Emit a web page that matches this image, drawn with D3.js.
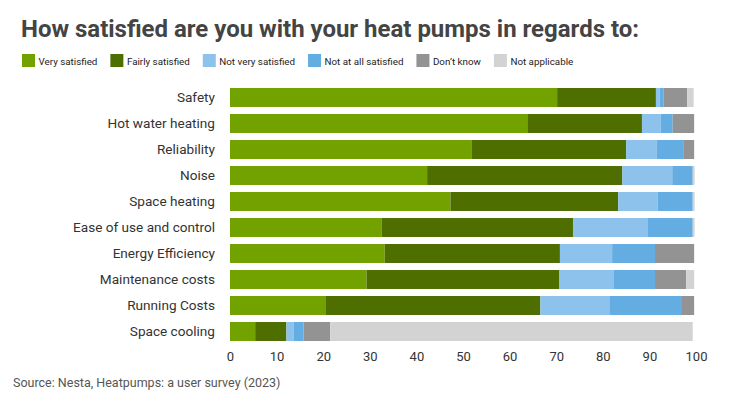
<!DOCTYPE html>
<html>
<head>
<meta charset="utf-8">
<script src="https://cdn.jsdelivr.net/npm/d3@7"></script>
<style>
  body { margin: 0; background: #fff; }
  svg { display: block; font-family: Roboto, "Noto Sans", sans-serif; }
</style>
</head>
<body>
<div id="chart"></div>
<script>
// categories, top to bottom
var categories = ["Safety", "Hot water heating", "Reliability", "Noise", "Space heating",
  "Ease of use and control", "Energy Efficiency", "Maintenance costs", "Running Costs", "Space cooling"];

var seriesNames = ["Very satisfied", "Fairly satisfied", "Not very satisfied",
  "Not at all satisfied", "Don\u2019t know", "Not applicable"];

// percentages per series, same order as categories
var verySatisfied   = [70.2, 63.8, 51.8, 42.3, 47.3, 32.5, 33.2, 29.3, 20.6, 5.4];
var fairlySatisfied = [21.2, 24.6, 33.2, 41.9, 36.0, 41.1, 37.6, 41.4, 46.0, 6.7];
var notVery         = [0.8, 4.0, 6.6, 10.7, 8.5, 16.1, 11.2, 11.7, 14.8, 1.6];
var notAtAll        = [0.8, 2.6, 5.8, 4.4, 7.5, 9.6, 9.2, 8.8, 15.4, 2.1];
var dontKnow        = [5.1, 4.6, 2.2, 0, 0, 0, 8.4, 6.7, 2.8, 5.7];
var notApplicable   = [1.4, 0, 0, 0.4, 0.4, 0.4, 0, 1.7, 0, 77.8];

var xTicks = [0, 10, 20, 30, 40, 50, 60, 70, 80, 90, 100];

var colors = ["#72a200", "#4e6e00", "#8cc2eb", "#64ade3", "#939393", "#d3d3d3"];

var allSeries = [verySatisfied, fairlySatisfied, notVery, notAtAll, dontKnow, notApplicable];

// build rows for the stack
var rows = categories.map(function(c, i) {
  var r = { cat: c };
  seriesNames.forEach(function(s, j) { r[s] = allSeries[j][i]; });
  return r;
});

var width = 730, height = 402;

var svg = d3.select("#chart").append("svg")
  .attr("width", width)
  .attr("height", height);

var x = d3.scaleLinear().domain([0, 100]).range([230, 696]);
var y = d3.scaleBand().domain(categories).range([84.5, 344.5])
  .paddingInner(0.27).paddingOuter(0.135);
var color = d3.scaleOrdinal().domain(seriesNames).range(colors);

// title
svg.append("text")
  .attr("x", 21)
  .attr("y", 37)
  .attr("font-size", 24)
  .attr("font-weight", "bold")
  .attr("fill", "#444")
  .attr("textLength", 618)
  .attr("lengthAdjust", "spacingAndGlyphs")
  .text("How satisfied are you with your heat pumps in regards to:");

// legend
var legend = svg.append("g").attr("transform", "translate(22,54)");
var lx = 0;
seriesNames.forEach(function(s) {
  var g = legend.append("g").attr("transform", "translate(" + lx + ",0)");
  g.append("rect").attr("width", 13).attr("height", 13).attr("fill", color(s));
  var t = g.append("text")
    .attr("x", 16.5).attr("y", 10.5)
    .attr("font-size", 9.8)
    .attr("fill", "#222")
    .text(s);
  lx += 16.5 + t.node().getComputedTextLength() + 13;
});

// bars
var stack = d3.stack().keys(seriesNames);
var layers = stack(rows);

svg.append("g")
  .selectAll("g")
  .data(layers)
  .enter()
  .append("g")
    .attr("fill", function(d) { return color(d.key); })
  .selectAll("rect")
  .data(function(d) { return d; })
  .enter()
  .append("rect")
    .attr("x", function(d) { return x(d[0]); })
    .attr("y", function(d) { return y(d.data.cat); })
    .attr("width", function(d) { return Math.max(0, x(d[1]) - x(d[0])); })
    .attr("height", y.bandwidth());

// category labels
svg.append("g")
  .selectAll("text")
  .data(categories)
  .enter()
  .append("text")
    .attr("x", 215)
    .attr("y", function(d) { return y(d) + y.bandwidth() / 2; })
    .attr("dy", "0.35em")
    .attr("text-anchor", "end")
    .attr("font-size", 13.6)
    .attr("fill", "#333")
    .text(function(d) { return d; });

// x axis, labels only
var xAxis = svg.append("g")
  .attr("transform", "translate(0,346)")
  .call(d3.axisBottom(x).tickValues(xTicks).tickSize(0).tickPadding(6));
xAxis.select(".domain").remove();
xAxis.selectAll("text")
  .attr("font-family", "Roboto, sans-serif")
  .attr("font-size", 13)
  .attr("fill", "#333");

// source
svg.append("text")
  .attr("x", 13)
  .attr("y", 387)
  .attr("font-size", 12.5)
  .attr("fill", "#555")
  .text("Source: Nesta, Heatpumps: a user survey (2023)");
</script>
</body>
</html>
